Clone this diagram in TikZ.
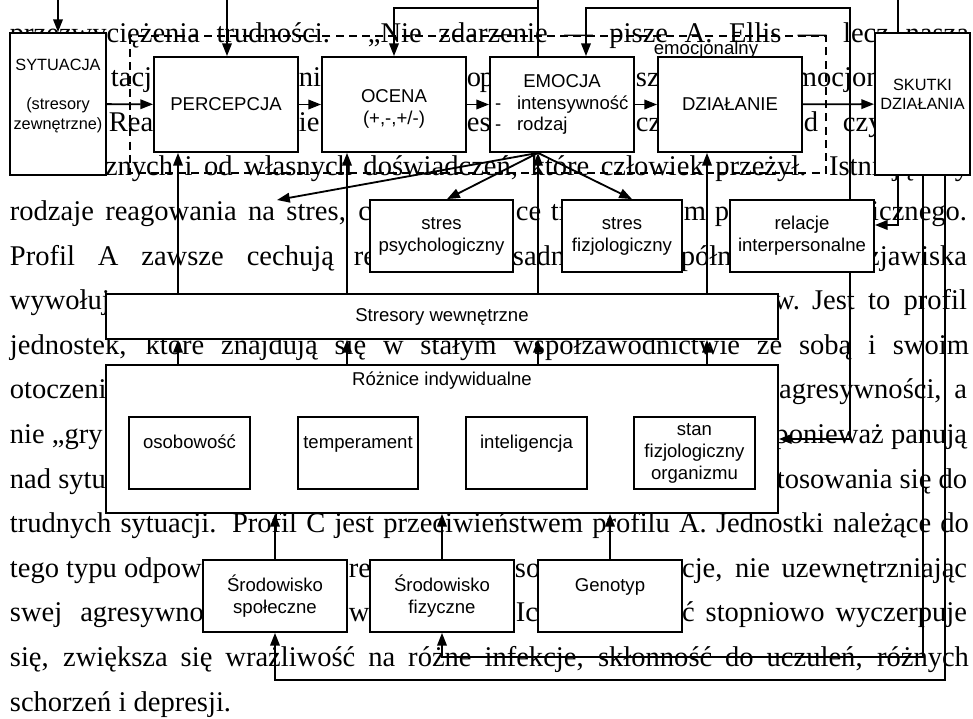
\documentclass[tikz,border=0pt]{standalone}
\usepackage{fontspec}
\setmainfont{Liberation Serif}
\newfontfamily\arialfam{Liberation Sans}
\usetikzlibrary{arrows.meta}

\newdimen\unitpx \unitpx=0.025cm
\newcommand\rowy[1]{{42+44.6*#1}}

\begin{document}
\begin{tikzpicture}[x=0.025cm, y=-0.025cm, line width=1.3pt]
  % styles
  \tikzstyle{txt}=[inner sep=0pt, font=\fontsize{20.3pt}{24pt}\selectfont]
  \tikzstyle{box}=[draw, fill=white, inner sep=0pt, align=center,
                   font=\arialfam\fontsize{13.2pt}{15.6pt}\selectfont]
  \tikzstyle{sbox}=[box, font=\arialfam\fontsize{11.6pt}{13.9pt}\selectfont]
  \tikzstyle{lbl}=[inner sep=0pt, font=\arialfam\fontsize{13.2pt}{15.6pt}\selectfont]
  \tikzstyle{arr}=[-{Triangle[length=3.2mm,width=2.4mm]}]
  \tikzstyle{dashframe}=[line width=0.9pt, dash pattern=on 2mm off 1.3mm]
  \tikzset{wh/.style 2 args={minimum width=#1*\unitpx, minimum height=#2*\unitpx}}

  \useasboundingbox (0,0) rectangle (973,718);

  % running text behind the scheme
  \foreach \r/\s in {0/{przezwyciężenia trudności. „Nie zdarzenie — pisze A. Ellis — lecz nasza},
                     3/{dziedzicznych i od własnych doświadczeń, które człowiek przeżył. Istnieją trzy},
                     7/{jednostek, które znajdują się w stałym współzawodnictwie ze sobą i swoim},
                     11/{trudnych sytuacji. Profil C jest przeciwieństwem profilu A. Jednostki należące do},
                     14/{się, zwiększa się wrażliwość na różne infekcje, skłonność do uczuleń, różnych}}
    \node[txt, anchor=base west] (line\r) at (9,\rowy{\r}) {\makebox[959\unitpx][s]{\s}};

  \foreach \x/\r/\s in {110/1/tacja, 298/1/ni, 466/1/o, 479/1/p, 635/1/sz, 794/1/mocjon,
                        108/2/Reak, 298/2/ie, 466/2/es, 635/2/cz, 803/2/d, 842/2/czy,
                        9/4/{\makebox[361\unitpx][s]{rodzaje reagowania na stres, c}},
                        515/4/ce, 550/4/tr, 683/4/m, 714/4/pr,
                        9/5/{\makebox[324\unitpx][s]{Profil A zawsze cechują}},
                        353/5/re, 512/5/sadn, 680/5/półm,
                        9/6/wywołuj, 9/8/otoczeni, 9/9/nie „gry, 9/10/nad sytu,
                        9/12/tego typu odpow, 348/12/res, 514/12/so,
                        9/13/{\makebox[194\unitpx][s]{swej agresywno}}, 348/13/w, 515/13/Ic,
                        9/15/schorzeń i depresji.}
    \node[txt, anchor=base west] (w-\r-\x) at (\x,\rowy{\r}) {\s};

  \foreach \x/\r/\s in {968/4/icznego., 968/5/zjawiska, 801/6/w.,
                        968/6/{\makebox[155\unitpx][s]{Jest to profil}},
                        968/8/{\makebox[188\unitpx][s]{agresywności, a}},
                        968/9/ponieważ panują, 968/10/tosowania się do,
                        968/12/{\makebox[285\unitpx][s]{cje, nie uzewnętrzniając}},
                        968/13/{\makebox[285\unitpx][s]{ć stopniowo wyczerpuje}}}
    \node[txt, anchor=base east] (e-\r-\x) at (\x,\rowy{\r}) {\s};

  % dashed frame of the emotional process
  \draw[dashframe] (130,36) rectangle (826,173);
  \node[lbl] (emocjonalny) at (706,50) {emocjonalny};

  % main chain
  \node[sbox, wh={96}{142}]  (sytuacja)  at (58,104)    {SYTUACJA\\ \mbox{}\\(stresory\\zewnętrzne)\\ \mbox{}};
  \node[box, wh={144}{95}]   (percepcja) at (226,104.5) {PERCEPCJA};
  \node[box, wh={144}{95}]   (ocena)     at (394,104.5) {\mbox{}\\OCENA\\(+,-,+/-)};
  \node[box, wh={144}{95}]   (emocja)    at (562,104.5) {EMOCJA\\
        \makebox[134\unitpx][l]{\makebox[22\unitpx][l]{-}intensywność}\\
        \makebox[134\unitpx][l]{\makebox[22\unitpx][l]{-}rodzaj}};
  \node[box, wh={144}{95}]   (dzialanie) at (730,104.5) {DZIAŁANIE};
  \node[sbox, wh={95}{142}]  (skutki)    at (922.5,104) {SKUTKI\\DZIAŁANIA\\ \mbox{}};

  % stress boxes
  \node[box, wh={143}{72}] (psych)   at (441.5,236) {stres\\psychologiczny};
  \node[box, wh={120}{72}] (fizjo)   at (622,236)   {stres\\fizjologiczny};
  \node[box, wh={144}{72}] (relacje) at (802,236)   {relacje\\interpersonalne};

  % inner stressors and individual differences
  \node[box, wh={672}{45}]  (wewn)    at (442,316.5) {Stresory wewnętrzne};
  \node[box, wh={672}{148}] (roznice) at (442,439) {};
  \node[lbl] (roznicelbl) at (442,381) {Różnice indywidualne};
  \node[box, wh={121}{72}] (osob)   at (189.5,453) {osobowość\\ \mbox{}};
  \node[box, wh={120}{72}] (temper) at (358,453)   {temperament\\ \mbox{}};
  \node[box, wh={121}{72}] (intel)  at (526.5,453) {inteligencja\\ \mbox{}};
  \node[box, wh={121}{72}] (stan)   at (694.5,453) {stan\\fizjologiczny\\organizmu};

  % environment
  \node[box, wh={144}{72}] (spol) at (275,596) {Środowisko\\społeczne};
  \node[box, wh={144}{72}] (fiz)  at (442,596) {Środowisko\\fizyczne};
  \node[box, wh={144}{72}] (geno) at (610,596) {Genotyp\\ \mbox{}};

  % arrows
  \draw[arr] (sytuacja) -- (percepcja);
  \draw[arr] (percepcja) -- (ocena);
  \draw[arr] (ocena) -- (emocja);
  \draw[arr] (emocja) -- (dzialanie);
  \draw[arr] (dzialanie) -- (skutki);

  \coordinate (c1) at (178,0);
  \coordinate (c2) at (347,0);
  \coordinate (c3) at (538,0);
  \coordinate (c4) at (707,0);
  \foreach \c/\t in {c1/percepcja, c2/ocena, c3/emocja, c4/dzialanie} {
    \draw[arr] (wewn.north -| \c) -- (\t.south -| \c);
    \draw[arr] (roznice.north -| \c) -- (wewn.south -| \c);
  }

  % emotion splits into kinds of stress
  \coordinate (eb) at (emocja.south -| c3);
  \coordinate (free) at (277,200);
  \coordinate (pt) at (447,0);
  \coordinate (ft) at (632,0);
  \draw[arr] (eb) -- (free);
  \draw[arr] (eb) -- (psych.north -| pt);
  \draw[arr] (eb) -- (fizjo.north -| ft);

  % feedback along the top
  \coordinate (s0) at (58,0);
  \coordinate (p0) at (227,0);
  \coordinate (k0) at (898,0);
  \coordinate (f1) at (538,8);
  \coordinate (f2) at (850,8);
  \coordinate (f3) at (586,8);
  \draw[arr] (s0) -- (sytuacja.north);
  \draw[arr] (p0) -- (percepcja.north -| p0);
  \draw (emocja.north -| c3) -- (c3);
  \draw (skutki.north -| k0) -- (k0);
  \draw[arr] (f1) -| (ocena.north);
  \draw[arr] (relacje.north -| f2) -- (f2) -- (f3) -- (emocja.north -| f3);
  \draw[arr] (relacje.south -| f2) |- (roznice.east);

  % effects of the action
  \coordinate (r1) at (898,225);
  \coordinate (r2) at (923,657);
  \coordinate (r3) at (945,680);
  \draw[arr] (skutki.south -| r1) -- (r1) -- (relacje.east |- r1);
  \draw[arr] (skutki.south -| r2) -- (r2) -| (fiz.south);
  \draw[arr] (skutki.south -| r3) -- (r3) -| (spol.south);

  \foreach \e in {spol, fiz, geno}
    \draw[arr] (\e.north) -- (roznice.south -| \e.north);
\end{tikzpicture}
\end{document}
